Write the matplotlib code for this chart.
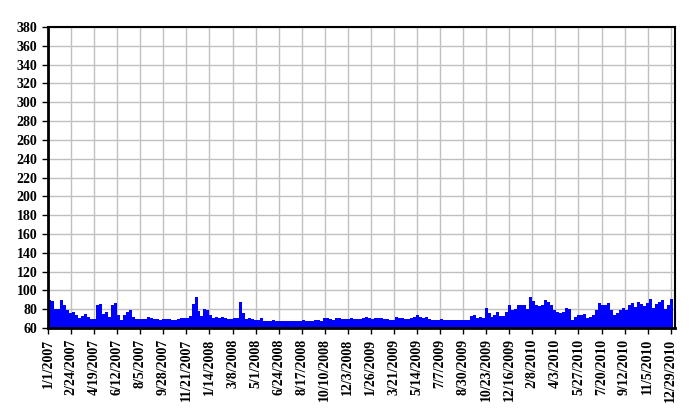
import matplotlib
matplotlib.use("Agg")
import matplotlib.pyplot as plt
import matplotlib.dates as mdates
import pandas as pd

# valores semanales (desde 1/1/2007)
valores_2007 = [90, 89, 80, 80, 90, 84, 79, 76, 76.5, 74, 71, 73, 75, 72, 69.5, 69.5,
                84, 86, 75, 77, 72, 85, 87, 74, 69, 74, 77, 79, 72, 70, 70, 70,
                70, 72, 71, 69.5, 69.5, 68.5, 70, 69.5, 69.5, 69, 69, 69.5, 70.5, 70.5,
                71, 73, 86, 93, 78, 73]
valores_2008 = [80, 79.5, 74, 71, 72, 70.5, 72, 71, 69.5, 70, 70.5, 71, 88, 76, 70, 70.5,
                69.5, 68.5, 69, 71, 67.5, 67, 67, 68, 67, 67.5, 67.5, 67.5, 67.5, 67.5, 67.5,
                67, 67, 68, 67.5, 67, 67.5, 69, 69, 67.5, 70.5, 71, 69.5, 69, 70.5, 71,
                69.5, 69.5, 70, 71, 69.5, 69.5]
valores_2009 = [70, 70.5, 71.5, 70.5, 70, 70.5, 70.5, 70.5, 70, 69.5, 69, 69, 71.5, 70.5,
                70.5, 70, 69.5, 70.5, 72, 74, 72, 71, 72, 69.5, 68.5, 68.5, 68, 70, 68.5,
                68.5, 68.5, 68.5, 69, 68.5, 68.5, 69, 68.5, 73, 74, 71, 72, 71, 81, 76,
                72, 74, 77.5, 73, 72.5, 77, 85, 79]
valores_2010 = [80, 85, 85, 84, 80, 93, 89, 85, 83, 84, 90, 88, 84, 79.5, 76.5, 76, 77,
                81, 80, 69, 72, 73.5, 74, 75, 71, 72, 74, 79, 87, 85, 84, 87, 79, 74, 76,
                79, 81, 79, 84, 87, 82, 88, 86, 83, 87, 91, 81, 86, 88, 90, 80, 85, 91]

valores = valores_2007 + valores_2008 + valores_2009 + valores_2010
fechas = pd.date_range("2007-01-01", periods=len(valores), freq="7D")
fechas_paso = list(fechas) + [fechas[-1] + pd.Timedelta(days=7)]
valores_paso = valores + [valores[-1]]

y_min, y_max, y_paso = 60, 380, 20
fechas_ticks = pd.date_range("2007-01-01", "2010-12-29", freq="54D")
etiquetas_x = [f"{d.month}/{d.day}/{d.year}" for d in fechas_ticks]

plt.rcParams["font.family"] = ["Liberation Serif", "DejaVu Serif"]
plt.rcParams["font.weight"] = "bold"

fig = plt.figure(figsize=(7, 4.2), dpi=100)
ax = fig.add_axes([0.0686, 0.219, 0.8957, 0.7167])

ax.fill_between(fechas_paso, valores_paso, y_min, step="post",
                color="#0000FF", linewidth=0)

ax.set_ylim(y_min, y_max)
ax.set_yticks(range(y_min, y_max + 1, y_paso))
ax.set_xlim(pd.Timestamp("2007-01-01"), pd.Timestamp("2011-01-08"))
ax.set_xticks(fechas_ticks)
ax.set_xticklabels(etiquetas_x, rotation=90)

ax.grid(True, color="#C0C0C0", linewidth=1)
ax.set_axisbelow(True)

for lado in ["left", "bottom", "top", "right"]:
    ax.spines[lado].set_linewidth(1.5)
    ax.spines[lado].set_color("black")
ax.spines["left"].set_linewidth(2)
ax.spines["bottom"].set_linewidth(2)

ax.tick_params(axis="both", labelsize=10, length=4, width=1, color="black")
for t in ax.get_xticklabels() + ax.get_yticklabels():
    t.set_fontweight("bold")

fig.savefig("out.png", dpi=100)
